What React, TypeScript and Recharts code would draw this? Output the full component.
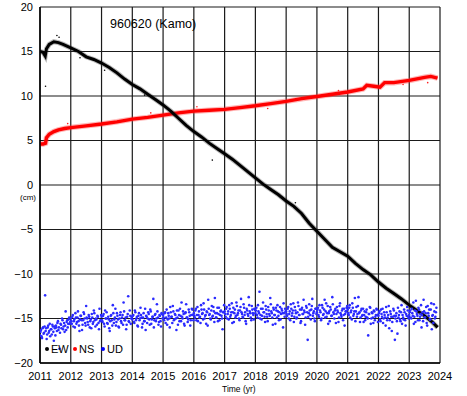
import React from 'react';
import {
  ComposedChart,
  Line,
  Scatter,
  XAxis,
  YAxis,
  CartesianGrid,
} from 'recharts';

// EW (black)
const ewTimes = [
  2011.0, 2011.1, 2011.17, 2011.21, 2011.3, 2011.45, 2011.6, 2011.75, 2012.0, 2012.25, 2012.5, 2012.75,
  2013.0, 2013.25, 2013.5, 2013.75, 2014.0, 2014.25, 2014.5, 2014.75, 2015.0, 2015.25, 2015.5, 2015.75,
  2016.0, 2016.25, 2016.5, 2016.75, 2017.0, 2017.25, 2017.5, 2017.75, 2018.0, 2018.25, 2018.5, 2018.75,
  2019.0, 2019.25, 2019.5, 2019.75, 2020.0, 2020.25, 2020.5, 2020.75, 2021.0, 2021.25, 2021.5, 2021.75,
  2022.0, 2022.25, 2022.5, 2022.75, 2023.0, 2023.25, 2023.5, 2023.75, 2023.92,
];
const ewValues = [
  15.0, 14.9, 14.5, 15.3, 15.8, 16.1, 16.0, 15.8, 15.4, 15.0, 14.4, 14.1,
  13.7, 13.2, 12.6, 11.9, 11.3, 10.8, 10.2, 9.6, 9.0, 8.3, 7.5, 6.7,
  6.0, 5.4, 4.7, 4.1, 3.5, 2.9, 2.2, 1.5, 0.8, 0.1, -0.5, -1.1,
  -1.8, -2.4, -3.2, -4.3, -5.2, -6.1, -7.0, -7.5, -8.0, -8.8, -9.5, -10.1,
  -10.9, -11.6, -12.2, -12.8, -13.5, -14.1, -14.7, -15.4, -16.0,
];

// NS (red)
const nsTimes = [
  2011.0, 2011.1, 2011.18, 2011.21, 2011.3, 2011.45, 2011.6, 2011.8, 2012.0, 2012.5, 2013.0, 2013.5,
  2014.0, 2014.5, 2015.0, 2015.5, 2016.0, 2016.5, 2017.0, 2017.5, 2018.0, 2018.5, 2019.0, 2019.5,
  2020.0, 2020.5, 2021.0, 2021.5, 2021.62, 2021.85, 2022.05, 2022.2, 2022.5, 2023.0, 2023.5, 2023.7, 2023.92,
];
const nsValues = [
  4.6, 4.6, 4.7, 5.3, 5.7, 6.0, 6.2, 6.35, 6.45, 6.65, 6.85, 7.1,
  7.4, 7.6, 7.85, 8.1, 8.3, 8.4, 8.5, 8.7, 8.9, 9.15, 9.4, 9.7,
  9.95, 10.2, 10.45, 10.8, 11.2, 11.1, 11.0, 11.5, 11.5, 11.75, 12.1, 12.2, 12.0,
];

// a few stray points off the EW / NS bands
const ewStrayTimes = [2011.18, 2011.55, 2011.62, 2012.3, 2016.6, 2013.1, 2014.4, 2019.3];
const ewStrayValues = [11.1, 16.8, 16.6, 14.3, 2.8, 12.9, 10.1, -2.0];
const nsStrayTimes = [2011.9, 2014.6, 2016.1, 2018.4, 2020.7, 2022.8, 2023.6];
const nsStrayValues = [6.9, 8.1, 8.8, 8.6, 10.6, 11.3, 11.5];

// UD (blue), two interleaved sets of 30 samples per year
const udYears = [2011, 2012, 2013, 2014, 2015, 2016, 2017, 2018, 2019, 2020, 2021, 2022, 2023];
const udValuesA = [
  [-16.9, -16.3, -17.2, -16.0, -16.6, -12.4, -16.1, -16.8, -15.8, -16.4, -17.0, -16.2, -15.7, -16.5, -15.9, -16.9, -16.0, -15.5, -16.3, -18.4, -15.6, -16.1, -15.2, -15.9, -16.5, -14.2, -15.4, -16.0, -15.1, -15.6],
  [-15.0, -15.6, -14.6, -15.3, -16.0, -14.9, -15.4, -14.2, -15.8, -15.1, -14.7, -16.3, -15.2, -14.5, -15.5, -13.6, -15.0, -15.7, -14.8, -15.3, -16.1, -14.9, -15.4, -14.4, -15.9, -15.1, -14.7, -15.5, -13.9, -15.2],
  [-14.8, -15.4, -14.5, -15.9, -15.0, -14.3, -15.6, -15.1, -16.4, -14.7, -15.2, -13.5, -15.5, -14.9, -15.8, -14.4, -15.1, -16.0, -14.6, -15.3, -14.9, -15.7, -14.2, -15.2, -16.2, -14.8, -12.5, -15.4, -14.7, -15.0],
  [-15.1, -14.6, -15.5, -14.3, -15.0, -15.8, -14.7, -15.2, -13.8, -14.9, -15.6, -14.4, -15.3, -16.3, -14.8, -15.0, -14.5, -15.7, -14.2, -15.1, -14.8, -16.0, -14.6, -15.3, -13.4, -14.9, -15.4, -14.7, -15.9, -14.5],
  [-14.6, -15.2, -14.3, -14.9, -15.7, -14.4, -15.0, -13.7, -14.8, -15.5, -14.2, -15.1, -14.6, -16.3, -14.9, -14.1, -15.3, -14.7, -13.2, -15.0, -14.5, -15.8, -14.3, -14.9, -15.4, -14.0, -14.7, -15.2, -13.9, -14.6],
  [-14.4, -14.9, -13.9, -14.6, -15.3, -14.2, -14.8, -13.5, -14.5, -15.1, -14.0, -14.7, -15.6, -14.3, -12.9, -14.6, -15.0, -14.1, -14.8, -13.7, -15.4, -14.4, -14.9, -13.8, -14.5, -15.2, -14.2, -14.7, -16.2, -14.3],
  [-14.2, -14.8, -13.7, -14.5, -15.1, -13.9, -14.6, -13.3, -14.3, -15.4, -14.0, -14.7, -13.6, -14.4, -15.0, -14.1, -12.8, -14.5, -14.9, -13.8, -14.3, -15.6, -14.1, -14.7, -13.5, -14.4, -15.2, -14.0, -14.6, -13.9],
  [-14.4, -13.8, -14.9, -14.2, -12.0, -14.6, -15.1, -13.9, -14.3, -14.8, -13.6, -14.5, -15.3, -14.1, -14.7, -13.4, -14.4, -15.7, -14.0, -14.6, -13.8, -14.9, -14.2, -15.2, -13.7, -14.5, -14.1, -16.0, -14.4, -13.9],
  [-14.2, -14.7, -13.7, -14.5, -15.2, -13.9, -14.4, -13.3, -14.8, -14.1, -15.0, -14.3, -13.6, -14.6, -15.5, -14.0, -14.5, -12.9, -14.3, -14.9, -13.8, -17.4, -14.4, -14.1, -15.1, -13.6, -14.7, -14.2, -15.3, -13.9],
  [-14.3, -13.8, -14.8, -14.1, -15.2, -13.5, -14.6, -14.0, -14.9, -13.3, -14.4, -15.6, -14.2, -13.7, -14.7, -12.6, -14.3, -15.0, -13.9, -14.5, -14.1, -15.4, -13.6, -14.4, -14.8, -13.9, -14.6, -15.8, -14.2, -13.8],
  [-14.0, -14.6, -13.5, -14.3, -15.1, -13.8, -14.5, -12.7, -14.2, -14.8, -13.6, -14.4, -15.4, -14.1, -14.7, -13.9, -14.6, -15.2, -14.3, -14.9, -16.9, -14.5, -13.8, -15.0, -14.4, -15.5, -14.2, -14.8, -13.9, -14.6],
  [-14.7, -14.2, -15.3, -14.5, -13.9, -15.0, -14.6, -15.8, -14.3, -14.9, -13.6, -15.2, -14.5, -16.4, -14.8, -14.1, -17.4, -14.7, -15.3, -13.8, -14.6, -15.1, -14.3, -15.6, -14.9, -14.0, -15.2, -14.5, -13.7, -14.8],
  [-14.6, -14.1, -15.0, -14.4, -13.2, -14.8, -15.4, -14.2, -14.7, -13.8, -15.2, -14.5, -16.0, -14.3, -12.9, -14.9, -14.4, -15.5, -13.6, -14.7, -15.1, -14.0, -16.2, -14.6, -13.4, -15.0, -14.3],
];
const udValuesB = [
  [-16.5, -17.0, -16.1, -16.7, -15.9, -16.4, -17.3, -16.0, -16.6, -15.6, -16.2, -16.8, -15.9, -17.5, -16.1, -15.8, -16.4, -15.3, -16.0, -16.6, -15.7, -15.0, -16.2, -15.5, -15.8, -16.3, -15.2, -15.6, -14.9, -15.4],
  [-15.3, -14.8, -15.9, -15.1, -14.4, -15.6, -14.9, -15.3, -16.4, -14.7, -15.2, -15.7, -14.3, -15.0, -15.8, -14.9, -15.4, -14.6, -16.0, -15.1, -14.5, -15.6, -14.1, -15.2, -15.0, -15.7, -14.8, -16.2, -15.3, -14.6],
  [-15.2, -14.7, -15.6, -14.1, -15.0, -15.5, -14.8, -16.1, -15.3, -14.6, -15.8, -14.4, -15.1, -13.9, -15.4, -14.7, -15.9, -15.0, -14.3, -15.5, -14.6, -13.2, -15.2, -14.9, -15.7, -14.5, -15.3, -14.1, -15.6, -14.8],
  [-14.7, -15.4, -14.1, -15.2, -14.8, -15.9, -14.4, -15.0, -14.6, -16.0, -14.9, -15.3, -13.9, -14.7, -15.5, -14.3, -15.1, -14.0, -15.6, -14.8, -12.8, -15.2, -14.5, -15.0, -14.2, -15.7, -14.6, -15.3, -14.4, -15.0],
  [-14.9, -14.4, -15.5, -14.0, -15.1, -14.7, -16.0, -14.3, -14.8, -13.6, -15.2, -14.5, -15.0, -14.1, -15.7, -14.6, -13.9, -15.3, -14.8, -14.2, -15.6, -14.4, -13.4, -14.9, -15.1, -14.3, -15.8, -14.6, -14.0, -15.2],
  [-14.7, -14.1, -15.2, -13.7, -14.6, -14.9, -15.5, -14.0, -14.4, -13.3, -15.0, -14.6, -14.2, -15.8, -13.9, -14.5, -15.1, -13.6, -14.7, -14.2, -12.7, -14.9, -14.4, -15.3, -13.8, -14.6, -14.1, -15.0, -14.3, -13.5],
  [-14.5, -13.9, -15.0, -14.2, -13.5, -14.8, -14.3, -15.5, -13.8, -14.4, -14.9, -13.2, -14.6, -14.1, -15.2, -13.7, -14.3, -14.8, -13.4, -14.6, -15.3, -13.9, -14.5, -12.6, -14.2, -14.9, -13.6, -14.4, -15.1, -14.0],
  [-14.1, -14.6, -13.5, -14.4, -15.0, -13.9, -14.7, -13.2, -14.3, -15.4, -14.0, -14.8, -13.7, -14.5, -12.7, -14.2, -14.9, -13.8, -14.6, -15.6, -14.1, -13.5, -14.7, -14.3, -15.1, -13.9, -14.4, -13.3, -14.8, -14.2],
  [-14.5, -13.9, -15.0, -14.2, -13.4, -14.7, -14.1, -15.4, -13.7, -14.4, -14.9, -13.2, -14.6, -14.0, -15.3, -13.8, -14.5, -14.1, -15.7, -13.6, -14.3, -14.8, -13.4, -14.6, -14.0, -12.8, -14.4, -15.0, -13.9, -14.5],
  [-14.0, -14.6, -13.5, -14.3, -15.0, -13.8, -14.5, -12.9, -14.2, -14.8, -13.6, -14.4, -15.3, -14.0, -14.7, -13.4, -14.5, -14.1, -15.5, -13.7, -14.3, -14.9, -13.3, -14.6, -14.1, -15.2, -13.9, -14.5, -14.2, -13.6],
  [-14.4, -13.8, -14.9, -14.1, -13.3, -14.7, -14.2, -15.3, -13.7, -14.5, -12.6, -14.3, -14.9, -13.9, -14.6, -15.4, -14.2, -14.8, -14.0, -15.0, -14.5, -13.7, -15.6, -14.3, -14.9, -14.1, -15.2, -14.6, -14.0, -15.4],
  [-14.4, -15.1, -14.0, -14.8, -15.5, -14.3, -14.9, -13.7, -15.2, -14.6, -16.1, -14.2, -14.8, -15.4, -13.9, -14.7, -15.0, -14.4, -16.7, -14.9, -14.2, -15.3, -13.5, -14.6, -15.1, -14.3, -15.8, -14.7, -14.1, -15.0],
  [-14.3, -14.9, -13.9, -14.7, -15.6, -14.1, -13.0, -14.5, -15.2, -14.0, -14.8, -13.5, -14.6, -15.3, -14.2, -14.9, -13.7, -15.8, -14.4, -14.0, -15.1, -13.3, -14.7, -15.5, -14.2, -14.8, -13.8],
];

const xTicks = [2011, 2012, 2013, 2014, 2015, 2016, 2017, 2018, 2019, 2020, 2021, 2022, 2023, 2024];
const yTicks = [-20, -15, -10, -5, 0, 5, 10, 15, 20];

const ewData = ewTimes.map((t, i) => ({ t, v: ewValues[i] }));
const nsData = nsTimes.map((t, i) => ({ t, v: nsValues[i] }));
const ewStray = ewStrayTimes.map((t, i) => ({ t, v: ewStrayValues[i] }));
const nsStray = nsStrayTimes.map((t, i) => ({ t, v: nsStrayValues[i] }));
const udData = [
  ...udYears.flatMap((y, i) => udValuesA[i].map((v, j) => ({ t: y + j / 30, v }))),
  ...udYears.flatMap((y, i) => udValuesB[i].map((v, j) => ({ t: y + (j + 0.5) / 30, v }))),
];

const font = '"Liberation Sans", Arial, sans-serif';
const fmtY = (v: number) => (v < 0 ? '\u2212' + Math.abs(v) : String(v));

const dot = (color: string, r: number) => (props: any) => (
  <circle cx={props.cx} cy={props.cy} r={r} fill={color} />
);

const legendItems = [
  { name: 'EW', color: '#000', left: 45 },
  { name: 'NS', color: '#f00', left: 73 },
  { name: 'UD', color: '#00f', left: 101 },
];

export default function App() {
  return (
    <div style={{ position: 'absolute', left: 0, top: 0, width: 467, height: 396, background: '#fff', fontFamily: font }}>
      <ComposedChart width={467} height={396} margin={{ top: 7, right: 27, left: 0, bottom: 0 }}>
        <CartesianGrid stroke="#1a1a1a" strokeWidth={1.2} />
        <XAxis
          type="number"
          dataKey="t"
          domain={[2011, 2024]}
          ticks={xTicks}
          height={33}
          tickLine={false}
          tickSize={0}
          tickMargin={9}
          axisLine={{ stroke: '#000', strokeWidth: 1.5 }}
          tick={{ fill: '#000', fontSize: 11, fontFamily: font }}
          interval={0}
          allowDataOverflow
        />
        <YAxis
          type="number"
          dataKey="v"
          domain={[-20, 20]}
          ticks={yTicks}
          width={40}
          tickLine={false}
          tickSize={0}
          tickMargin={7}
          tickFormatter={fmtY}
          axisLine={{ stroke: '#000', strokeWidth: 1.5 }}
          tick={{ fill: '#000', fontSize: 11, fontFamily: font }}
          interval={0}
        />
        <Scatter data={udData} dataKey="v" fill="#0000ff" shape={dot('#2a2aff', 1.3)} isAnimationActive={false} />
        <Line data={nsData} dataKey="v" stroke="#ff3030" strokeOpacity={0.35} strokeWidth={5.5} dot={false} type="linear" isAnimationActive={false} />
        <Line data={nsData} dataKey="v" stroke="#ff0000" strokeWidth={3.4} dot={false} type="linear" isAnimationActive={false} />
        <Scatter data={nsStray} dataKey="v" fill="#f00" shape={dot('#ff2020', 0.8)} isAnimationActive={false} />
        <Line data={ewData} dataKey="v" stroke="#333" strokeOpacity={0.35} strokeWidth={5} dot={false} type="linear" isAnimationActive={false} />
        <Line data={ewData} dataKey="v" stroke="#000" strokeWidth={3} dot={false} type="linear" isAnimationActive={false} />
        <Scatter data={ewStray} dataKey="v" fill="#000" shape={dot('#000', 0.8)} isAnimationActive={false} />
      </ComposedChart>
      <div style={{ position: 'absolute', left: 110, top: 17, fontSize: 12.5, color: '#000' }}>960620 (Kamo)</div>
      <div style={{ position: 'absolute', left: 20, top: 193, fontSize: 8, color: '#000' }}>(cm)</div>
      <div style={{ position: 'absolute', left: 222, top: 384, fontSize: 8.5, color: '#000' }}>Time (yr)</div>
      {legendItems.map((it) => (
        <div key={it.name} style={{ position: 'absolute', left: it.left, top: 343, fontSize: 11, color: '#000', whiteSpace: 'nowrap', display: 'flex', alignItems: 'center' }}>
          <span style={{ display: 'inline-block', width: 4, height: 4, borderRadius: 2, background: it.color, marginRight: 2 }} />
          {it.name}
        </div>
      ))}
    </div>
  );
}
